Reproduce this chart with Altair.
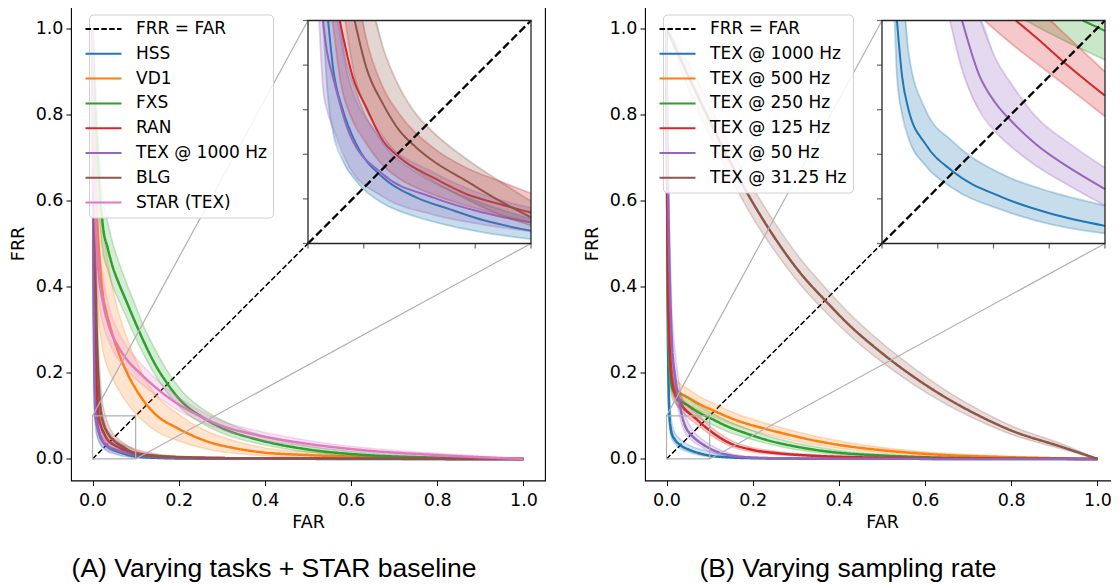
import altair as alt
import numpy as np
import pandas as pd

FONT = "DejaVu Sans"
CAP_FONT = "Liberation Sans"
FS = 17.5
LFS = 17

# ---------------- shared axis / inset values ----------------
TICKS = [0.0, 0.2, 0.4, 0.6, 0.8, 1.0]
DIAG = [0.0, 1.0]
ZOOM = [0.0, 0.1]
INSET_XTICKS = [0.0, 0.025, 0.05, 0.075, 0.1]
INSET_YTICKS = [0.0, 0.02, 0.04, 0.06, 0.08, 0.1]
INSET_SPAN = [0.5, 1.0175]          # where the inset sits, in main-axis units
DOM = [-0.05, 1.05]

# ---------------- Panel A : varying tasks ----------------
A_NAMES = ["HSS", "VD1", "FXS", "RAN", "TEX @ 1000 Hz", "BLG", "STAR (TEX)"]
A_COLORS = ["#1f77b4", "#ff7f0e", "#2ca02c", "#d62728", "#9467bd", "#8c564b", "#e377c2"]

A_HSS_FAR = [0, 0.002, 0.004, 0.006, 0.009, 0.0112, 0.0157, 0.0216, 0.0336, 0.0485, 0.0634, 0.0784, 0.1, 0.15, 0.2, 0.3, 0.5, 0.7, 1.0]
A_HSS_FRR = [1.0, 0.55, 0.3, 0.17, 0.1, 0.079, 0.0596, 0.0446, 0.0296, 0.0207, 0.0154, 0.0105, 0.0057, 0.0025, 0.0012, 0.0005, 0.0002, 0.0001, 0.0]
A_HSS_LO = [1.0, 0.4, 0.2, 0.11, 0.065, 0.05, 0.037, 0.028, 0.018, 0.012, 0.008, 0.005, 0.002, 0.001, 0.0005, 0.0002, 0.0001, 0.0, 0.0]
A_HSS_HI = [1.0, 0.7, 0.45, 0.28, 0.16, 0.125, 0.09, 0.068, 0.045, 0.032, 0.024, 0.018, 0.011, 0.005, 0.0025, 0.001, 0.0005, 0.0002, 0.0]

A_VD1_FAR = [0, 0.002, 0.004, 0.008, 0.012, 0.018, 0.024, 0.032, 0.04, 0.055, 0.08, 0.1, 0.117, 0.15, 0.194, 0.23, 0.271, 0.33, 0.387, 0.5, 0.62, 0.8, 1.0]
A_VD1_FRR = [1.0, 0.85, 0.75, 0.62, 0.53, 0.44, 0.38, 0.34, 0.31, 0.262, 0.2, 0.163, 0.137, 0.1, 0.073, 0.055, 0.039, 0.025, 0.016, 0.009, 0.005, 0.002, 0.0]
A_VD1_LO = [1.0, 0.7, 0.55, 0.42, 0.35, 0.29, 0.25, 0.22, 0.2, 0.17, 0.13, 0.105, 0.088, 0.063, 0.044, 0.032, 0.022, 0.013, 0.008, 0.004, 0.002, 0.0008, 0.0]
A_VD1_HI = [1.0, 0.95, 0.9, 0.8, 0.72, 0.62, 0.54, 0.48, 0.43, 0.36, 0.28, 0.23, 0.195, 0.145, 0.108, 0.083, 0.062, 0.042, 0.028, 0.016, 0.009, 0.004, 0.0]

A_FXS_FAR = [0, 0.002, 0.005, 0.012, 0.024, 0.035, 0.047, 0.06, 0.078, 0.1, 0.12, 0.145, 0.17, 0.21, 0.25, 0.3, 0.387, 0.5, 0.62, 0.8, 1.0]
A_FXS_FRR = [1.0, 0.93, 0.85, 0.7, 0.54, 0.49, 0.445, 0.41, 0.367, 0.315, 0.27, 0.22, 0.18, 0.13, 0.1, 0.072, 0.044, 0.022, 0.01, 0.003, 0.0]
A_FXS_LO = [1.0, 0.88, 0.78, 0.62, 0.48, 0.44, 0.4, 0.37, 0.33, 0.28, 0.24, 0.195, 0.158, 0.113, 0.085, 0.06, 0.035, 0.016, 0.006, 0.0015, 0.0]
A_FXS_HI = [1.0, 0.97, 0.92, 0.78, 0.61, 0.55, 0.5, 0.46, 0.41, 0.355, 0.305, 0.255, 0.21, 0.155, 0.12, 0.09, 0.056, 0.03, 0.015, 0.005, 0.0]

A_RAN_FAR = [0, 0.002, 0.005, 0.008, 0.011, 0.0142, 0.0201, 0.0261, 0.0336, 0.041, 0.056, 0.0709, 0.0858, 0.1, 0.15, 0.2, 0.3, 0.5, 0.7, 1.0]
A_RAN_FRR = [1.0, 0.65, 0.35, 0.22, 0.14, 0.1, 0.0746, 0.0611, 0.0461, 0.0386, 0.0296, 0.0222, 0.0177, 0.0139, 0.007, 0.004, 0.002, 0.001, 0.0004, 0.0]
A_RAN_LO = [1.0, 0.5, 0.25, 0.15, 0.1, 0.075, 0.055, 0.045, 0.035, 0.029, 0.022, 0.017, 0.013, 0.0095, 0.005, 0.0025, 0.0012, 0.0005, 0.0002, 0.0]
A_RAN_HI = [1.0, 0.8, 0.55, 0.38, 0.27, 0.19, 0.12, 0.092, 0.07, 0.058, 0.043, 0.034, 0.028, 0.0225, 0.011, 0.006, 0.003, 0.0015, 0.0006, 0.0]

A_TEX_FAR = [0, 0.001, 0.002, 0.003, 0.004, 0.005, 0.0067, 0.0085, 0.0112, 0.0187, 0.0336, 0.056, 0.0784, 0.1, 0.15, 0.2, 0.3, 0.5, 0.7, 1.0]
A_TEX_FRR = [1.0, 0.7, 0.45, 0.3, 0.21, 0.145, 0.1, 0.086, 0.0746, 0.049, 0.0311, 0.0207, 0.0139, 0.0094, 0.0045, 0.0022, 0.001, 0.0004, 0.0002, 0.0]
A_TEX_LO = [1.0, 0.55, 0.32, 0.2, 0.14, 0.1, 0.07, 0.06, 0.052, 0.034, 0.021, 0.013, 0.0085, 0.0055, 0.0025, 0.0012, 0.0005, 0.0002, 0.0001, 0.0]
A_TEX_HI = [1.0, 0.85, 0.62, 0.45, 0.32, 0.23, 0.16, 0.13, 0.11, 0.072, 0.047, 0.032, 0.022, 0.016, 0.008, 0.004, 0.002, 0.0008, 0.0004, 0.0]

A_BLG_FAR = [0, 0.002, 0.004, 0.007, 0.01, 0.015, 0.0209, 0.0261, 0.0336, 0.041, 0.0485, 0.056, 0.0709, 0.0858, 0.1, 0.15, 0.2, 0.3, 0.5, 0.7, 1.0]
A_BLG_FRR = [1.0, 0.8, 0.6, 0.4, 0.28, 0.16, 0.1, 0.079, 0.0626, 0.0506, 0.0431, 0.0371, 0.0281, 0.0192, 0.0117, 0.006, 0.004, 0.002, 0.001, 0.0004, 0.0]
A_BLG_LO = [1.0, 0.7, 0.45, 0.28, 0.19, 0.11, 0.075, 0.06, 0.048, 0.039, 0.033, 0.028, 0.02, 0.013, 0.008, 0.004, 0.0025, 0.0012, 0.0005, 0.0002, 0.0]
A_BLG_HI = [1.0, 0.88, 0.75, 0.55, 0.4, 0.24, 0.15, 0.115, 0.088, 0.07, 0.058, 0.05, 0.038, 0.028, 0.019, 0.009, 0.006, 0.003, 0.0015, 0.0006, 0.0]

A_STAR_FAR = [0, 0.002, 0.006, 0.012, 0.025, 0.039, 0.06, 0.08, 0.109, 0.15, 0.19, 0.25, 0.3, 0.38, 0.5, 0.62, 0.8, 1.0]
A_STAR_FRR = [1.0, 0.8, 0.6, 0.46, 0.36, 0.306, 0.26, 0.23, 0.2, 0.163, 0.133, 0.099, 0.077, 0.056, 0.035, 0.021, 0.009, 0.0]
A_STAR_LO = [1.0, 0.7, 0.5, 0.39, 0.31, 0.27, 0.23, 0.205, 0.178, 0.145, 0.118, 0.087, 0.067, 0.047, 0.028, 0.016, 0.006, 0.0]
A_STAR_HI = [1.0, 0.9, 0.72, 0.55, 0.42, 0.35, 0.295, 0.26, 0.225, 0.183, 0.15, 0.112, 0.088, 0.066, 0.043, 0.027, 0.013, 0.0]

# ---------------- Panel B : varying sampling rate ----------------
B_NAMES = ["TEX @ 1000 Hz", "TEX @ 500 Hz", "TEX @ 250 Hz", "TEX @ 125 Hz", "TEX @ 50 Hz", "TEX @ 31.25 Hz"]
B_COLORS = ["#1f77b4", "#ff7f0e", "#2ca02c", "#d62728", "#9467bd", "#8c564b"]

B_1000_FAR = [0, 0.001, 0.002, 0.003, 0.0045, 0.0067, 0.009, 0.012, 0.0195, 0.0314, 0.054, 0.0763, 0.1, 0.15, 0.2, 0.3, 0.5, 0.7, 1.0]
B_1000_FRR = [1.0, 0.7, 0.45, 0.3, 0.18, 0.1, 0.075, 0.0596, 0.0446, 0.0326, 0.0207, 0.0132, 0.0079, 0.0035, 0.0018, 0.0008, 0.0003, 0.0001, 0.0]
B_1000_LO = [1.0, 0.6, 0.35, 0.22, 0.13, 0.075, 0.058, 0.047, 0.035, 0.025, 0.015, 0.0085, 0.0045, 0.0018, 0.0008, 0.0003, 0.0001, 0.0, 0.0]
B_1000_HI = [1.0, 0.8, 0.58, 0.42, 0.28, 0.16, 0.115, 0.085, 0.06, 0.046, 0.031, 0.023, 0.017, 0.008, 0.004, 0.0018, 0.0006, 0.0002, 0.0]

B_500_FAR = [0, 0.001, 0.003, 0.006, 0.008, 0.012, 0.02, 0.028, 0.051, 0.075, 0.105, 0.167, 0.221, 0.28, 0.337, 0.41, 0.492, 0.57, 0.647, 0.8, 1.0]
B_500_FRR = [1.0, 0.7, 0.4, 0.26, 0.22, 0.18, 0.162, 0.155, 0.142, 0.128, 0.114, 0.088, 0.072, 0.057, 0.044, 0.031, 0.021, 0.014, 0.009, 0.004, 0.0]
B_500_LO = [1.0, 0.6, 0.32, 0.21, 0.18, 0.155, 0.142, 0.136, 0.125, 0.113, 0.1, 0.075, 0.06, 0.046, 0.034, 0.023, 0.015, 0.009, 0.005, 0.002, 0.0]
B_500_HI = [1.0, 0.8, 0.5, 0.32, 0.27, 0.215, 0.188, 0.178, 0.162, 0.146, 0.131, 0.103, 0.086, 0.069, 0.055, 0.04, 0.028, 0.019, 0.013, 0.006, 0.0]

B_250_FAR = [0, 0.001, 0.003, 0.006, 0.009, 0.012, 0.02, 0.028, 0.05, 0.07, 0.09, 0.105, 0.14, 0.183, 0.24, 0.299, 0.36, 0.415, 0.5, 0.57, 0.7, 1.0]
B_250_FRR = [1.0, 0.7, 0.4, 0.26, 0.2, 0.17, 0.152, 0.14, 0.124, 0.111, 0.1, 0.093, 0.076, 0.06, 0.042, 0.029, 0.019, 0.013, 0.008, 0.005, 0.002, 0.0]
B_250_LO = [1.0, 0.6, 0.32, 0.21, 0.165, 0.145, 0.13, 0.122, 0.108, 0.097, 0.087, 0.08, 0.064, 0.05, 0.034, 0.022, 0.014, 0.009, 0.005, 0.003, 0.001, 0.0]
B_250_HI = [1.0, 0.8, 0.5, 0.32, 0.24, 0.2, 0.175, 0.16, 0.142, 0.127, 0.115, 0.107, 0.089, 0.072, 0.052, 0.037, 0.026, 0.018, 0.011, 0.007, 0.003, 0.0]

B_125_FAR = [0, 0.001, 0.003, 0.0085, 0.014, 0.02, 0.03, 0.04, 0.06, 0.069, 0.0808, 0.1, 0.144, 0.2, 0.26, 0.33, 0.4, 0.6, 1.0]
B_125_FRR = [1.0, 0.75, 0.45, 0.24, 0.18, 0.15, 0.132, 0.118, 0.1, 0.0925, 0.082, 0.0663, 0.038, 0.021, 0.013, 0.008, 0.005, 0.002, 0.0]
B_125_LO = [1.0, 0.65, 0.37, 0.2, 0.155, 0.132, 0.117, 0.105, 0.088, 0.081, 0.072, 0.057, 0.031, 0.016, 0.01, 0.006, 0.0035, 0.0013, 0.0]
B_125_HI = [1.0, 0.85, 0.55, 0.29, 0.21, 0.172, 0.15, 0.135, 0.114, 0.106, 0.095, 0.077, 0.046, 0.026, 0.017, 0.011, 0.007, 0.003, 0.0]

B_50_FAR = [0, 0.002, 0.004, 0.008, 0.012, 0.02, 0.028, 0.0359, 0.0434, 0.0509, 0.0584, 0.0689, 0.0838, 0.1, 0.125, 0.15, 0.2, 0.3, 0.5, 1.0]
B_50_FRR = [1.0, 0.75, 0.6, 0.4, 0.28, 0.19, 0.14, 0.1, 0.076, 0.063, 0.0545, 0.0446, 0.0341, 0.0244, 0.014, 0.008, 0.003, 0.001, 0.0003, 0.0]
B_50_LO = [1.0, 0.65, 0.5, 0.32, 0.22, 0.15, 0.11, 0.078, 0.06, 0.05, 0.043, 0.035, 0.026, 0.017, 0.009, 0.005, 0.0018, 0.0006, 0.0002, 0.0]
B_50_HI = [1.0, 0.85, 0.72, 0.5, 0.36, 0.25, 0.185, 0.135, 0.102, 0.083, 0.071, 0.057, 0.045, 0.034, 0.021, 0.012, 0.005, 0.0016, 0.0005, 0.0]

B_3125_FAR = [0, 0.05, 0.1, 0.15, 0.2, 0.26, 0.31, 0.368, 0.43, 0.492, 0.57, 0.647, 0.72, 0.8, 0.917, 1.0]
B_3125_FRR = [1.0, 0.89, 0.785, 0.685, 0.595, 0.5, 0.432, 0.368, 0.305, 0.252, 0.193, 0.143, 0.103, 0.066, 0.028, 0.0]
B_3125_LO = [1.0, 0.86, 0.75, 0.65, 0.56, 0.47, 0.405, 0.342, 0.282, 0.231, 0.175, 0.128, 0.091, 0.057, 0.023, 0.0]
B_3125_HI = [1.0, 0.92, 0.82, 0.72, 0.63, 0.535, 0.465, 0.398, 0.332, 0.276, 0.214, 0.16, 0.117, 0.077, 0.035, 0.0]

A_SERIES = [
    (A_NAMES[0], A_COLORS[0], A_HSS_FAR, A_HSS_FRR, A_HSS_LO, A_HSS_HI),
    (A_NAMES[1], A_COLORS[1], A_VD1_FAR, A_VD1_FRR, A_VD1_LO, A_VD1_HI),
    (A_NAMES[2], A_COLORS[2], A_FXS_FAR, A_FXS_FRR, A_FXS_LO, A_FXS_HI),
    (A_NAMES[3], A_COLORS[3], A_RAN_FAR, A_RAN_FRR, A_RAN_LO, A_RAN_HI),
    (A_NAMES[4], A_COLORS[4], A_TEX_FAR, A_TEX_FRR, A_TEX_LO, A_TEX_HI),
    (A_NAMES[5], A_COLORS[5], A_BLG_FAR, A_BLG_FRR, A_BLG_LO, A_BLG_HI),
    (A_NAMES[6], A_COLORS[6], A_STAR_FAR, A_STAR_FRR, A_STAR_LO, A_STAR_HI),
]
B_SERIES = [
    (B_NAMES[0], B_COLORS[0], B_1000_FAR, B_1000_FRR, B_1000_LO, B_1000_HI),
    (B_NAMES[1], B_COLORS[1], B_500_FAR, B_500_FRR, B_500_LO, B_500_HI),
    (B_NAMES[2], B_COLORS[2], B_250_FAR, B_250_FRR, B_250_LO, B_250_HI),
    (B_NAMES[3], B_COLORS[3], B_125_FAR, B_125_FRR, B_125_LO, B_125_HI),
    (B_NAMES[4], B_COLORS[4], B_50_FAR, B_50_FRR, B_50_LO, B_50_HI),
    (B_NAMES[5], B_COLORS[5], B_3125_FAR, B_3125_FRR, B_3125_LO, B_3125_HI),
]

W = 474
H = 474

# inset scale domain so that ZOOM maps onto INSET_SPAN of the main axes
_s = (INSET_SPAN[1] - INSET_SPAN[0]) / (ZOOM[1] - ZOOM[0])
IDOM = [ZOOM[0] + (DOM[0] - INSET_SPAN[0]) / _s, ZOOM[0] + (DOM[1] - INSET_SPAN[0]) / _s]
LIM = ZOOM[1]


def clip_line(xs, ys, lim=LIM):
    """Clip a polyline to the zoom window [0, lim] x [0, lim]."""
    ox, oy = [], []
    for i in range(len(xs) - 1):
        x0, y0, x1, y1 = xs[i], ys[i], xs[i + 1], ys[i + 1]
        dx, dy = x1 - x0, y1 - y0
        t0, t1, ok = 0.0, 1.0, True
        for p, q in ((-dx, x0), (dx, lim - x0), (-dy, y0), (dy, lim - y0)):
            if p == 0:
                if q < 0:
                    ok = False
                    break
            else:
                r = q / p
                if p < 0:
                    t0 = max(t0, r)
                else:
                    t1 = min(t1, r)
        if not ok or t0 > t1:
            continue
        ax, ay = x0 + t0 * dx, y0 + t0 * dy
        bx, by = x0 + t1 * dx, y0 + t1 * dy
        if not ox or abs(ox[-1] - ax) > 1e-12 or abs(oy[-1] - ay) > 1e-12:
            ox.append(ax)
            oy.append(ay)
        ox.append(bx)
        oy.append(by)
    return ox, oy


def clip_band(xs, lo, hi, lim=LIM):
    xs = np.asarray(xs, float)
    lo = np.asarray(lo, float)
    hi = np.asarray(hi, float)
    pts = set(float(x) for x in xs if x <= lim)
    pts.add(lim)
    for arr in (lo, hi):
        for i in range(len(xs) - 1):
            a, b = arr[i], arr[i + 1]
            if (a - lim) * (b - lim) < 0:
                xc = xs[i] + (lim - a) / (b - a) * (xs[i + 1] - xs[i])
                if xc <= lim:
                    pts.add(float(xc))
    g = np.array(sorted(pts))
    l = np.minimum(np.interp(g, xs, lo), lim)
    h = np.minimum(np.interp(g, xs, hi), lim)
    keep = ~((l >= lim) & (h >= lim))
    idx = np.where(keep)[0]
    if len(idx) == 0:
        return None
    start = max(idx[0] - 1, 0)
    return pd.DataFrame({"far": g[start:], "lo": l[start:], "hi": h[start:]})


def axis(title, tpad, lpad):
    return alt.Axis(values=TICKS, format=".1f", title=title, grid=False, domain=False,
                    tickSize=5, tickWidth=1, tickColor="black",
                    labelFont=FONT, labelFontSize=FS, labelColor="black", labelPadding=lpad,
                    titleFont=FONT, titleFontSize=FS, titleFontWeight="normal",
                    titleColor="black", titlePadding=tpad)


def panel(series, field, caption):
    names = ["FRR = FAR"] + [s[0] for s in series]
    colors = ["black"] + [s[1] for s in series]
    dashes = [[5.5, 2.4]] + [[1, 0]] * len(series)
    legend = alt.Legend(orient="none", legendX=18, legendY=8, title=None,
                        fillColor="rgba(255,255,255,0.85)", strokeColor="#d0d0d0",
                        cornerRadius=4, padding=6,
                        labelFont=FONT, labelFontSize=LFS, labelColor="black",
                        symbolType="M-3,0H3", symbolSize=144, symbolStrokeWidth=2,
                        rowPadding=6.8, labelOffset=24, labelLimit=400)
    cscale = alt.Scale(domain=names, range=colors)
    dscale = alt.Scale(domain=names, range=dashes)
    xsc = alt.Scale(domain=DOM, nice=False, zero=False)
    ysc = alt.Scale(domain=DOM, nice=False, zero=False)
    xax = axis("FAR", 4, 6)
    yax = axis("FRR", 8, 3)

    def mx(f):
        return alt.X(f"{f}:Q", scale=xsc, axis=xax)

    def my(f):
        return alt.Y(f"{f}:Q", scale=ysc, axis=yax)

    def col():
        return dict(color=alt.Color(f"{field}:N", scale=cscale, legend=legend),
                    strokeDash=alt.StrokeDash(f"{field}:N", scale=dscale, legend=legend))

    main = []
    diag_df = pd.DataFrame({"far": DIAG, "frr": DIAG, field: names[0]})
    main.append(alt.Chart(diag_df).mark_line(strokeWidth=1.5).encode(
        x=mx("far"), y=my("frr"), **col()))

    for name, hexc, far, frr, lo, hi in series:
        df = pd.DataFrame({"far": far, "frr": frr, "lo": lo, "hi": hi, field: name})
        main.append(alt.Chart(df).mark_area(color=hexc, opacity=0.2, interpolate="monotone").encode(
            x=mx("far"), y=my("lo"), y2=alt.Y2("hi")))
        for f in ("lo", "hi"):
            main.append(alt.Chart(df).mark_line(color=hexc, opacity=0.25, strokeWidth=1.5,
                                                interpolate="monotone").encode(x=mx("far"), y=my(f)))
        main.append(alt.Chart(df).mark_line(strokeWidth=2.5, interpolate="monotone").encode(
            x=mx("far"), y=my("frr"), **col()))

    box_df = pd.DataFrame({"x0": [ZOOM[0]], "x1": [ZOOM[1]], "y0": [ZOOM[0]], "y1": [ZOOM[1]]})
    main.append(alt.Chart(box_df).mark_rect(fillOpacity=0, stroke="#b0b0b0", strokeWidth=1.2).encode(
        x=mx("x0"), x2=alt.X2("x1"), y=my("y0"), y2=alt.Y2("y1")))
    con_df = pd.DataFrame({"x0": [ZOOM[0], ZOOM[1]], "y0": [ZOOM[1], ZOOM[0]],
                           "x1": [INSET_SPAN[0], INSET_SPAN[1]], "y1": [INSET_SPAN[1], INSET_SPAN[0]]})
    main.append(alt.Chart(con_df).mark_rule(color="#b0b0b0", strokeWidth=1.2).encode(
        x=mx("x0"), x2=alt.X2("x1"), y=my("y0"), y2=alt.Y2("y1")))

    # ---------- inset ----------
    isc_x = alt.Scale(domain=IDOM, nice=False, zero=False)
    isc_y = alt.Scale(domain=IDOM, nice=False, zero=False)

    def ix(f):
        return alt.X(f"{f}:Q", scale=isc_x, axis=None)

    def iy(f):
        return alt.Y(f"{f}:Q", scale=isc_y, axis=None)

    inset = []
    inset.append(alt.Chart(box_df).mark_rect(fill="white").encode(
        x=ix("x0"), x2=alt.X2("x1"), y=iy("y0"), y2=alt.Y2("y1")))
    for name, hexc, far, frr, lo, hi in series:
        band = clip_band(far, lo, hi)
        if band is not None and len(band) > 1:
            inset.append(alt.Chart(band).mark_area(color=hexc, opacity=0.25, interpolate="monotone").encode(
                x=ix("far"), y=iy("lo"), y2=alt.Y2("hi")))
        for ys, op, sw in ((lo, 0.3, 1.8), (hi, 0.3, 1.8), (frr, 1.0, 2.0)):
            cx, cy = clip_line(far, ys)
            if len(cx) > 1:
                d = pd.DataFrame({"far": cx, "frr": cy})
                inset.append(alt.Chart(d).mark_line(color=hexc, opacity=op, strokeWidth=sw,
                                                    interpolate="monotone").encode(
                    x=ix("far"), y=iy("frr")))
    idiag = pd.DataFrame({"far": ZOOM, "frr": ZOOM})
    inset.append(alt.Chart(idiag).mark_line(color="black", strokeWidth=2.3, strokeDash=[8, 3.5]).encode(
        x=ix("far"), y=iy("frr")))
    inset.append(alt.Chart(box_df).mark_rect(fillOpacity=0, stroke="#262626", strokeWidth=1.3).encode(
        x=ix("x0"), x2=alt.X2("x1"), y=iy("y0"), y2=alt.Y2("y1")))
    xt = pd.DataFrame({"t": INSET_XTICKS, "z": [ZOOM[0]] * len(INSET_XTICKS)})
    yt = pd.DataFrame({"t": INSET_YTICKS, "z": [ZOOM[0]] * len(INSET_YTICKS)})
    inset.append(alt.Chart(xt).mark_tick(orient="vertical", size=5, thickness=1.2, color="#262626",
                                         yOffset=2.5).encode(x=ix("t"), y=iy("z")))
    inset.append(alt.Chart(yt).mark_tick(orient="horizontal", size=5, thickness=1.2, color="#262626",
                                         xOffset=-2.5).encode(x=ix("z"), y=iy("t")))

    return alt.layer(alt.layer(*main), alt.layer(*inset)).resolve_scale(
        x="independent", y="independent").properties(
        width=W, height=H,
        title=alt.TitleParams(caption, orient="bottom", anchor="middle", font=CAP_FONT,
                              fontSize=26.5, fontWeight="normal", color="black", offset=25, dx=-34))


pA = panel(A_SERIES, "taskA", "(A) Varying tasks + STAR baseline")
pB = panel(B_SERIES, "rateB", "(B) Varying sampling rate")

chart = alt.hconcat(pA, pB, spacing=36).resolve_scale(
    color="independent", strokeDash="independent", x="independent", y="independent"
).configure_view(stroke="black", strokeWidth=1.1).properties(
    padding={"left": 0, "top": -2.5, "right": -9, "bottom": 0})

chart.save("out.html", embed_options={"renderer": "svg", "actions": False})
